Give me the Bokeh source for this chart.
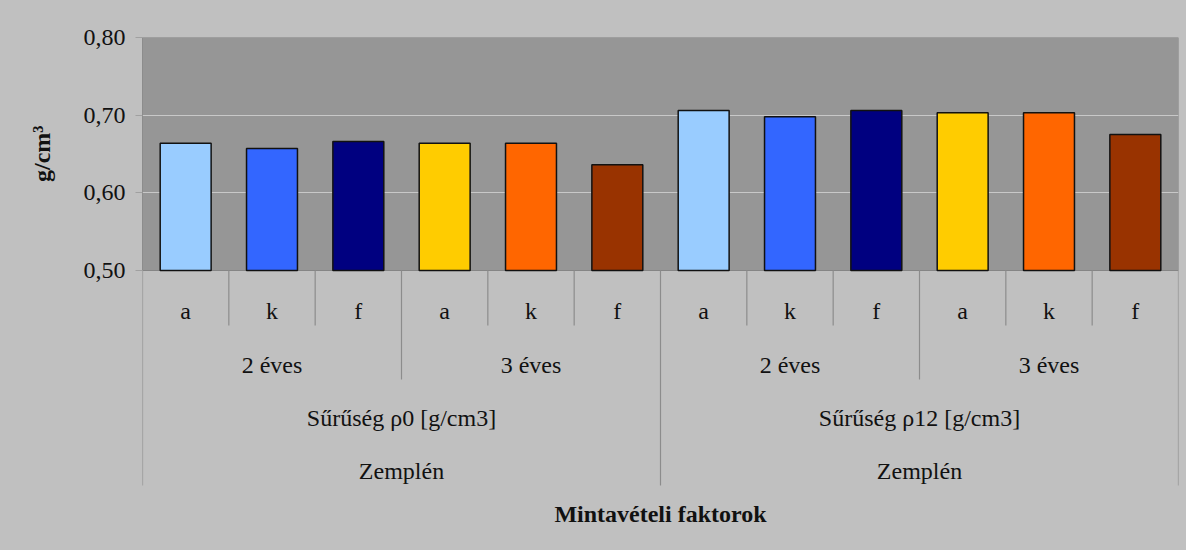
from bokeh.plotting import figure
from bokeh.models import Range1d, FixedTicker, CustomJSTickFormatter, ColumnDataSource, Title
from bokeh.core.properties import value
from bokeh.embed import file_html
from bokeh.resources import INLINE

# ---- data ----
region = "Zemplén"
groups = ["Sűrűség ρ0 [g/cm3]", "Sűrűség ρ12 [g/cm3]"]
years = ["2 éves", "3 éves"]
positions = ["a", "k", "f"]
values_rho0 = [0.664, 0.657, 0.666, 0.664, 0.664, 0.636]
values_rho12 = [0.706, 0.698, 0.706, 0.703, 0.703, 0.675]
bar_colors = ["#99CCFF", "#3366FF", "#000080", "#FFCC00", "#FF6600", "#993300"]
y_ticks = [0.50, 0.60, 0.70, 0.80]
y_label = "g/cm³"
x_title = "Mintavételi faktorok"

# ---- layout constants (window pixels) ----
W, H = 1186, 550
FIG_TOP = 8
PLOT_TOP_PX, PLOT_BOT_PX = 45, 278
Y_MIN, Y_MAX = 0.50, 0.80
UNIT_PER_PX = (Y_MAX - Y_MIN) / (PLOT_BOT_PX - PLOT_TOP_PX)


def y_at(px):
    return Y_MAX - (px - PLOT_TOP_PX) * UNIT_PER_PX


FONT = value("Liberation Serif")
FS = value("24px")
BG = "#C0C0C0"

n_cat = len(groups) * len(years) * len(positions)
frame_bottom_px = FIG_TOP + H
y_start = y_at(frame_bottom_px)

p = figure(width=W, height=H, output_backend="svg", toolbar_location=None,
           x_range=Range1d(0, n_cat), y_range=Range1d(y_start, Y_MAX),
           x_axis_location=None)
p.min_border_top = PLOT_TOP_PX - FIG_TOP
p.min_border_bottom = 0
p.min_border_right = 8
p.min_border_left = 142
p.background_fill_color = BG
p.border_fill_color = BG
p.outline_line_color = None
p.styles = {"background-color": BG}

# plot area background
p.quad(left=0, right=n_cat, bottom=Y_MIN, top=Y_MAX, fill_color="#969696",
       line_color="#858585", line_width=1, level="image")

# bars
xs, tops, cols, labs = [], [], [], []
all_vals = [values_rho0, values_rho12]
i = 0
for gi, g in enumerate(groups):
    for yi, yr in enumerate(years):
        for pi, pos in enumerate(positions):
            xs.append(i + 0.5)
            tops.append(all_vals[gi][yi * len(positions) + pi])
            cols.append(bar_colors[yi * len(positions) + pi])
            labs.append(pos)
            i += 1
src = ColumnDataSource(dict(x=xs, top=tops, color=cols, lab=labs))
p.vbar(x="x", top="top", bottom=Y_MIN, width=0.59, source=src,
       fill_color="color", line_color="#111111", line_width=1.5)

# y axis
ax = p.yaxis[0]
ax.bounds = (Y_MIN, Y_MAX)
ax.ticker = FixedTicker(ticks=y_ticks)
ax.formatter = CustomJSTickFormatter(code="return tick.toFixed(2).replace('.', ',');")
ax.major_label_text_font = "Liberation Serif"
ax.major_label_text_font_size = "24px"
ax.major_label_text_color = "#111111"
ax.major_label_standoff = 10
ax.major_tick_out = 7
ax.major_tick_in = 0
ax.minor_tick_out = 0
ax.minor_tick_in = 0
ax.axis_line_color = "#8c8c8c"
ax.major_tick_line_color = "#a0a0a0"

# y axis title, placed along the value axis (its upper end 88px below the frame top)
p.add_layout(Title(text=y_label, align="right", offset=88,
                   standoff=52, text_font="Liberation Serif", text_font_size="24px",
                   text_font_style="bold", text_color="#111111"), "left")

p.ygrid.ticker = FixedTicker(ticks=[t for t in y_ticks if Y_MIN < t < Y_MAX])
p.ygrid.grid_line_color = "#C8C8C8"
p.ygrid.grid_line_width = 1
p.xgrid.visible = False

# category separators
sep_x0, sep_y1 = [], []
n_pos = len(positions)
n_year = len(years)
for k in range(n_cat + 1):
    if k % (n_pos * n_year) == 0:
        bottom_px = 493
    elif k % n_pos == 0:
        bottom_px = 387
    else:
        bottom_px = 333
    sep_x0.append(k)
    sep_y1.append(y_at(bottom_px))
p.segment(x0=sep_x0, x1=sep_x0, y0=Y_MIN, y1=sep_y1, line_color="#8c8c8c", line_width=1.2)

# labels level 1
p.text(x=xs, y=[y_at(318)] * len(xs), text=labs, text_font=FONT, text_font_size=FS,
       text_align="center", text_baseline="middle", text_color="#111111")
# level 2
yx, yt = [], []
for gi in range(len(groups)):
    for yi, yr in enumerate(years):
        yx.append((gi * n_year + yi) * n_pos + n_pos / 2)
        yt.append(yr)
p.text(x=yx, y=[y_at(372)] * len(yx), text=yt, text_font=FONT, text_font_size=FS,
       text_align="center", text_baseline="middle", text_color="#111111")
# level 3
gx = [(gi + 0.5) * n_pos * n_year for gi in range(len(groups))]
p.text(x=gx, y=[y_at(425)] * len(gx), text=groups, text_font=FONT, text_font_size=FS,
       text_align="center", text_baseline="middle", text_color="#111111")
# level 4
p.text(x=gx, y=[y_at(478)] * len(gx), text=[region] * len(gx), text_font=FONT, text_font_size=FS,
       text_align="center", text_baseline="middle", text_color="#111111")
# axis title
p.text(x=[n_cat / 2], y=[y_at(521)], text=[x_title], text_font=FONT, text_font_size=FS,
       text_font_style="bold", text_align="center", text_baseline="middle", text_color="#111111")

open("out.html", "w").write(file_html(p, INLINE))
